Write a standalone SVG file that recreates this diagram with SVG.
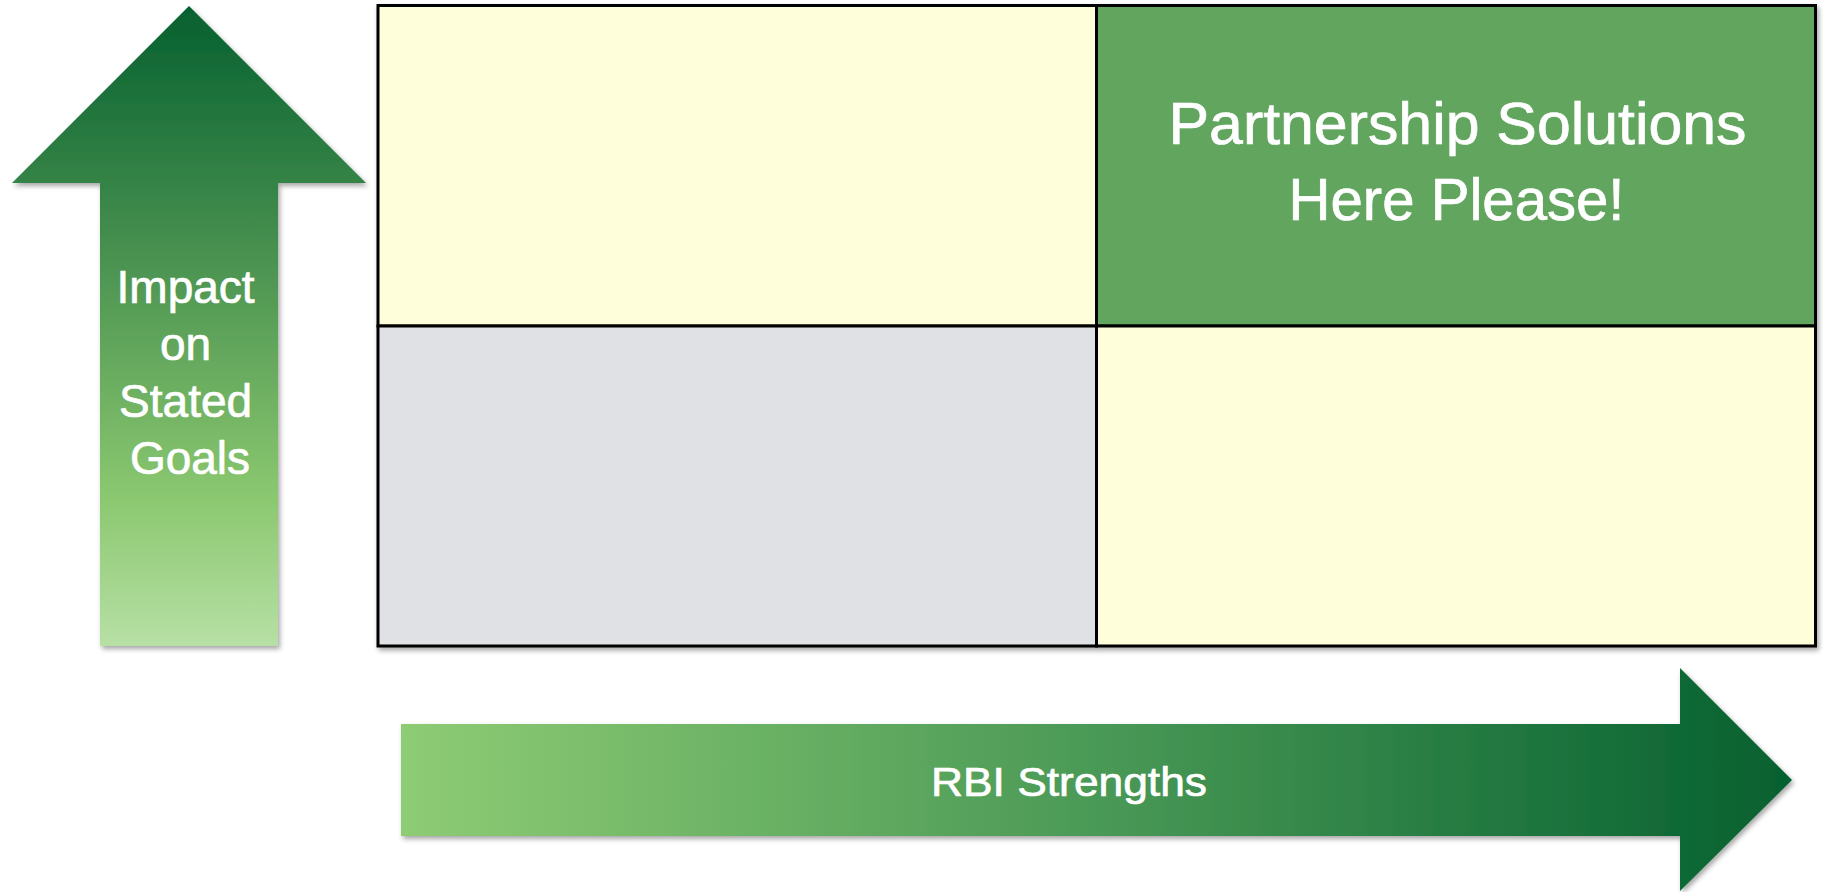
<svg xmlns="http://www.w3.org/2000/svg" width="1823" height="892" viewBox="0 0 1823 892">
  <defs>
    <linearGradient id="gUp" gradientUnits="userSpaceOnUse" x1="0" y1="6" x2="0" y2="646">
      <stop offset="0" stop-color="#05602F"/>
      <stop offset="0.38" stop-color="#47904F"/>
      <stop offset="0.77" stop-color="#8BC870"/>
      <stop offset="1" stop-color="#B7E0A5"/>
    </linearGradient>
    <linearGradient id="gRight" gradientUnits="userSpaceOnUse" x1="401" y1="0" x2="1792" y2="0">
      <stop offset="0" stop-color="#8ECC74"/>
      <stop offset="0.5" stop-color="#4A9956"/>
      <stop offset="1" stop-color="#05602F"/>
    </linearGradient>
    <filter id="shadow" x="-10%" y="-10%" width="120%" height="120%">
      <feDropShadow dx="2" dy="3" stdDeviation="2.5" flood-color="#000" flood-opacity="0.35"/>
    </filter>
  </defs>
  <style>
    .cell { stroke: #000; stroke-width: 3; }
    .yellow { fill: #FEFEDA; }
    .gray { fill: #DFE1E5; }
    .green { fill: #62A55E; }
    .lbl { font-family: "Liberation Sans", Arial, sans-serif; fill: #fff; stroke: #fff; stroke-width: 0.7; text-anchor: middle; }
  </style>
  <rect width="1823" height="892" fill="#fff"/>

  <g id="grid" filter="url(#shadow)">
    <rect id="cell-tl" class="cell yellow" x="378" y="5.5" width="718.5" height="320.5"/>
    <rect id="cell-tr" class="cell green" x="1096.5" y="5.5" width="719" height="320.5"/>
    <rect id="cell-bl" class="cell gray" x="378" y="326" width="718.5" height="320"/>
    <rect id="cell-br" class="cell yellow" x="1096.5" y="326" width="719" height="320"/>
  </g>
  <g id="cell-tr-label">
    <text class="lbl" x="1457.5" y="143.5" font-size="60" textLength="578" lengthAdjust="spacingAndGlyphs">Partnership Solutions</text>
    <text class="lbl" x="1456.5" y="219.5" font-size="60" textLength="336" lengthAdjust="spacingAndGlyphs">Here Please!</text>
  </g>

  <g id="arrow-up">
    <polygon filter="url(#shadow)" fill="url(#gUp)" points="189,6 366,183 278,183 278,646 100,646 100,183 12,183"/>
    <text class="lbl" font-size="46">
      <tspan x="192" y="303">Impact</tspan>
      <tspan x="192" y="360">on</tspan>
      <tspan x="192" y="417">Stated</tspan>
      <tspan x="190" y="474">Goals</tspan>
    </text>
  </g>

  <g id="arrow-right">
    <polygon filter="url(#shadow)" fill="url(#gRight)" points="401,724 1680,724 1680,668 1792,780 1680,891 1680,836 401,836"/>
    <text class="lbl" x="1069" y="796" font-size="41" textLength="276" lengthAdjust="spacingAndGlyphs">RBI Strengths</text>
  </g>

  <g id="connectors"/>
</svg>
